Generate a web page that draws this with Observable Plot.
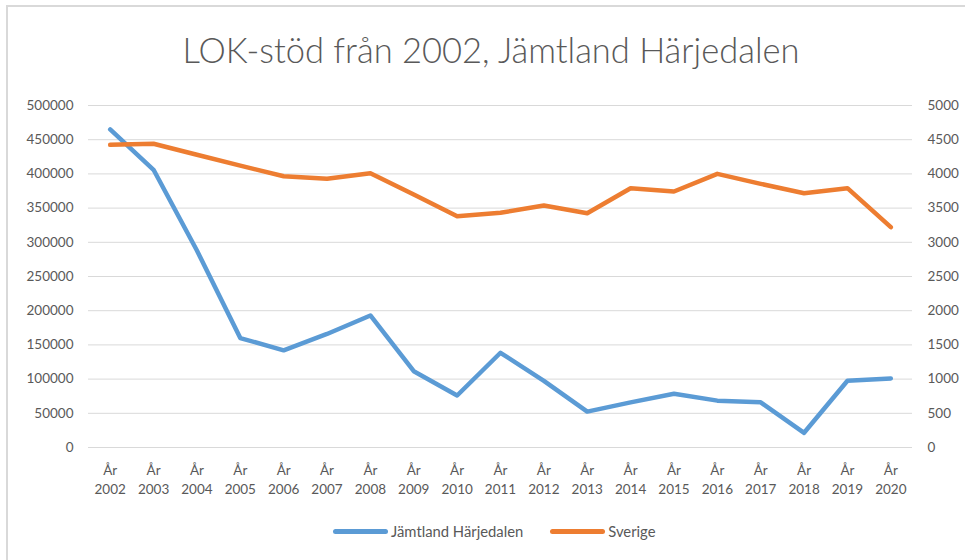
<!DOCTYPE html>
<html>
<head>
<meta charset="utf-8">
<script src="https://cdn.jsdelivr.net/npm/d3@7"></script>
<script src="https://cdn.jsdelivr.net/npm/@observablehq/plot@0.6"></script>
<style>
  html, body { margin: 0; padding: 0; background: #fff; }
  #wrap { position: relative; width: 965px; height: 560px; overflow: hidden; font-family: Lato, "Open Sans", sans-serif; color: #595959; }
  #frame { position: absolute; left: 6px; top: 5px; width: 1100px; height: 700px; border: 2px solid #d9d9d9; box-sizing: border-box; }
  #title { position: absolute; left: 0; top: 26px; width: 982px; text-align: center; font-size: 34.5px; font-weight: 300; line-height: 48px; }
  #chart { position: absolute; left: 0; top: 90px; }
  #legend { position: absolute; left: 333px; top: 520px; display: flex; align-items: center; font-size: 14.8px; height: 22px; }
  .sw { width: 55px; height: 5px; border-radius: 3px; margin-right: 3px; }
  .item { display: flex; align-items: center; margin-right: 27px; }
</style>
</head>
<body>
<div id="wrap">
  <div id="frame"></div>
  <div id="title">LOK-stöd från 2002, Jämtland Härjedalen</div>
  <div id="chart"></div>
  <div id="legend"></div>
</div>
<script>
const years = ["2002","2003","2004","2005","2006","2007","2008","2009","2010","2011","2012","2013","2014","2015","2016","2017","2018","2019","2020"];
// Jämtland Härjedalen (right axis, 0–5000)
const jamtland = [4650, 4060, 2880, 1600, 1420, 1660, 1930, 1115, 760, 1385, 975, 525, 660, 785, 685, 660, 215, 975, 1010];
// Sverige (left axis, 0–500000)
const sverige = [442500, 444000, 428000, 412000, 396600, 392800, 401000, 370000, 338200, 343100, 353800, 342500, 379100, 374300, 400100, 385500, 371800, 379100, 322100];
const leftTicks = [0, 50000, 100000, 150000, 200000, 250000, 300000, 350000, 400000, 450000, 500000];
const rightTicks = [0, 500, 1000, 1500, 2000, 2500, 3000, 3500, 4000, 4500, 5000];
const seriesNames = ["Jämtland Härjedalen", "Sverige"];
const colors = ["#5B9BD5", "#ED7D31"];

const ratio = leftTicks[leftTicks.length - 1] / rightTicks[rightTicks.length - 1];

const rowsJ = years.map((y, i) => ({year: y, v: jamtland[i] * ratio}));
const rowsS = years.map((y, i) => ({year: y, v: sverige[i]}));

const plot = Plot.plot({
  width: 965,
  height: 430,
  marginLeft: 88,
  marginRight: 53,
  marginTop: 15,
  marginBottom: 73,
  style: {fontFamily: "Lato, 'Open Sans', sans-serif", fontSize: "13.5px", color: "#595959", background: "transparent"},
  x: {type: "point", domain: years, padding: 0.5, round: false},
  y: {domain: [0, 500000]},
  marks: [
    Plot.gridY(leftTicks, {stroke: "#d9d9d9", strokeOpacity: 1, strokeWidth: 1}),
    Plot.axisY(leftTicks, {anchor: "left", tickSize: 0, tickPadding: 15, tickFormat: d => String(d), label: null}),
    Plot.axisY(leftTicks, {anchor: "right", tickSize: 0, tickPadding: 15, tickFormat: (d, i) => String(rightTicks[i]), label: null}),
    Plot.axisX({tickSize: 0, tickPadding: 14, tickFormat: d => "År\n" + d, lineHeight: 1.4, label: null}),
    Plot.line(rowsJ, {x: "year", y: "v", stroke: colors[0], strokeWidth: 4.5, strokeLinecap: "round", strokeLinejoin: "round"}),
    Plot.line(rowsS, {x: "year", y: "v", stroke: colors[1], strokeWidth: 4.5, strokeLinecap: "round", strokeLinejoin: "round"})
  ]
});
document.getElementById("chart").appendChild(plot);

const legend = document.getElementById("legend");
seriesNames.forEach((n, i) => {
  const it = document.createElement("div");
  it.className = "item";
  const sw = document.createElement("div");
  sw.className = "sw";
  sw.style.background = colors[i];
  const t = document.createElement("span");
  t.textContent = n;
  it.appendChild(sw);
  it.appendChild(t);
  legend.appendChild(it);
});
</script>
</body>
</html>
